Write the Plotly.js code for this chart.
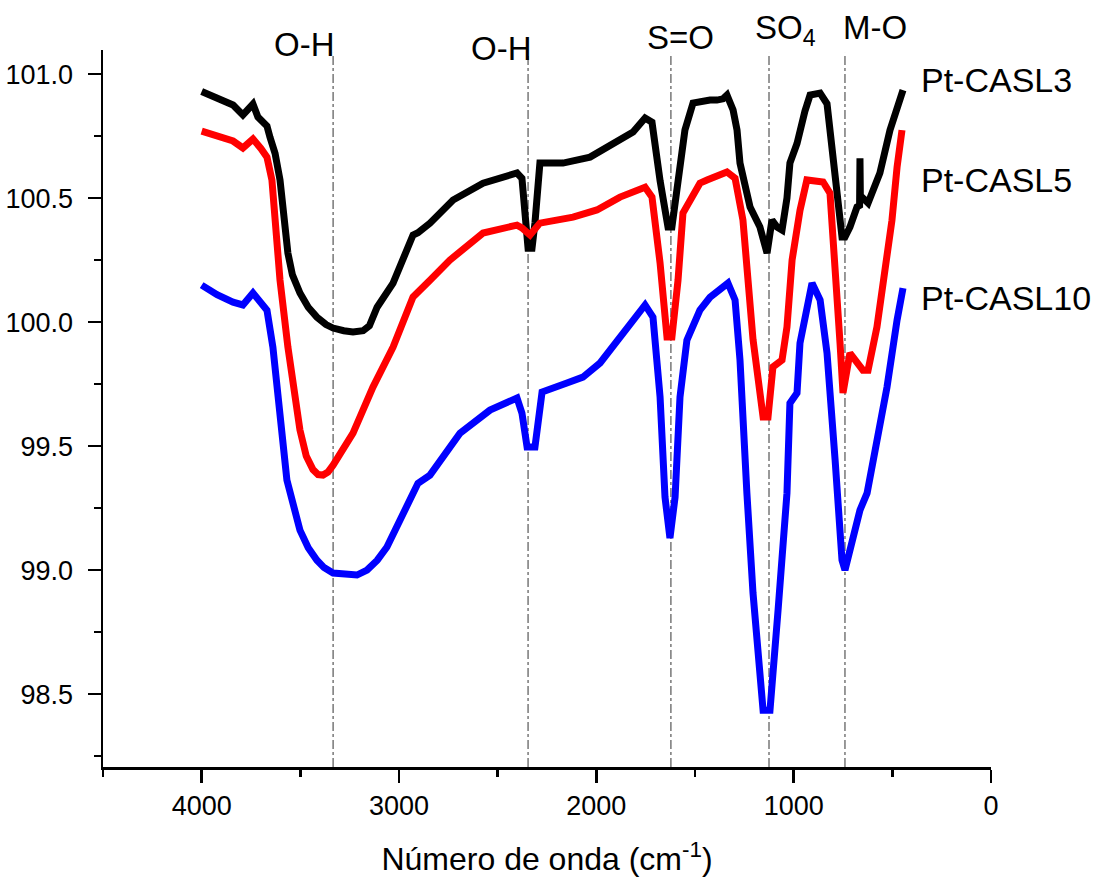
<!DOCTYPE html>
<html>
<head>
<meta charset="utf-8">
<script src="https://cdn.plot.ly/plotly-3.0.1.min.js"></script>
<style>html,body{margin:0;padding:0;background:#fff;}#chart{width:1095px;height:880px;}</style>
</head>
<body>
<div id="chart"></div>
<script>
// Pt-CASL3 (black)
const wn3 = [4000, 3922, 3841, 3791, 3740, 3715, 3669, 3654, 3628, 3603, 3585, 3563, 3540, 3502, 3460, 3416, 3370, 3334, 3280, 3233, 3182, 3150, 3111, 3030, 2929, 2904, 2843, 2726, 2574, 2402, 2377, 2351, 2346, 2326, 2311, 2286, 2169, 2032, 1946, 1814, 1753, 1718, 1677, 1652, 1637, 1617, 1590, 1576, 1551, 1510, 1475, 1424, 1389, 1358, 1338, 1307, 1287, 1272, 1221, 1171, 1135, 1110, 1084, 1059, 1034, 1019, 983, 968, 943, 917, 866, 831, 816, 780, 755, 740, 715, 679, 666, 664, 662, 654, 623, 563, 512, 461, 446];
const t3 = [100.93, 100.903, 100.875, 100.835, 100.879, 100.827, 100.79, 100.746, 100.68, 100.573, 100.45, 100.278, 100.19, 100.117, 100.06, 100.02, 99.99, 99.976, 99.965, 99.96, 99.965, 99.985, 100.06, 100.157, 100.351, 100.36, 100.399, 100.492, 100.56, 100.601, 100.58, 100.38, 100.298, 100.298, 100.4, 100.641, 100.641, 100.665, 100.706, 100.766, 100.823, 100.806, 100.57, 100.45, 100.383, 100.383, 100.55, 100.641, 100.774, 100.883, 100.89, 100.895, 100.895, 100.9, 100.915, 100.855, 100.774, 100.641, 100.464, 100.383, 100.278, 100.411, 100.383, 100.371, 100.5, 100.641, 100.72, 100.774, 100.85, 100.915, 100.923, 100.88, 100.774, 100.504, 100.343, 100.343, 100.383, 100.464, 100.47, 100.66, 100.5, 100.504, 100.48, 100.601, 100.774, 100.915, 100.935];
// Pt-CASL5 (red)
const wn5 = [4000, 3922, 3841, 3791, 3740, 3700, 3669, 3644, 3623, 3603, 3563, 3502, 3470, 3436, 3410, 3385, 3360, 3334, 3233, 3132, 3030, 2929, 2843, 2742, 2574, 2402, 2377, 2336, 2286, 2118, 1997, 1880, 1753, 1718, 1677, 1642, 1617, 1586, 1561, 1475, 1439, 1338, 1297, 1257, 1206, 1155, 1130, 1105, 1059, 1034, 1008, 968, 933, 851, 816, 790, 765, 750, 715, 649, 623, 578, 527, 502, 476, 451];
const t5 = [100.77, 100.75, 100.73, 100.702, 100.738, 100.70, 100.665, 100.573, 100.37, 100.169, 99.899, 99.565, 99.46, 99.405, 99.385, 99.383, 99.395, 99.423, 99.552, 99.738, 99.899, 100.101, 100.169, 100.25, 100.359, 100.391, 100.38, 100.351, 100.399, 100.423, 100.452, 100.504, 100.544, 100.504, 100.238, 99.94, 99.94, 100.169, 100.44, 100.56, 100.573, 100.605, 100.58, 100.411, 99.93, 99.617, 99.617, 99.819, 99.847, 99.98, 100.25, 100.45, 100.573, 100.565, 100.52, 100.25, 99.915, 99.714, 99.875, 99.806, 99.806, 99.98, 100.27, 100.41, 100.625, 100.774];
// Pt-CASL10 (blue)
const wn10 = [4000, 3922, 3841, 3791, 3740, 3669, 3639, 3603, 3568, 3502, 3460, 3416, 3380, 3334, 3270, 3213, 3162, 3110, 3061, 2929, 2904, 2843, 2691, 2539, 2402, 2377, 2351, 2311, 2275, 2149, 2068, 1981, 1880, 1753, 1713, 1677, 1652, 1627, 1601, 1576, 1541, 1475, 1424, 1373, 1333, 1297, 1272, 1237, 1206, 1155, 1120, 1079, 1034, 1019, 983, 968, 907, 866, 831, 790, 755, 740, 704, 664, 628, 578, 527, 476, 446];
const t10 = [100.149, 100.11, 100.08, 100.069, 100.117, 100.048, 99.899, 99.633, 99.363, 99.161, 99.09, 99.04, 99.01, 98.988, 98.98, 98.98, 99.0, 99.04, 99.093, 99.323, 99.35, 99.383, 99.552, 99.645, 99.694, 99.633, 99.496, 99.496, 99.718, 99.754, 99.778, 99.835, 99.94, 100.069, 100.02, 99.698, 99.294, 99.129, 99.294, 99.698, 99.927, 100.048, 100.10, 100.129, 100.157, 100.089, 99.847, 99.31, 98.907, 98.435, 98.435, 98.839, 99.31, 99.673, 99.714, 99.915, 100.157, 100.089, 99.875, 99.444, 99.04, 99.0, 99.109, 99.242, 99.31, 99.512, 99.738, 100.008, 100.137];

const seriesNames = ['Pt-CASL3', 'Pt-CASL5', 'Pt-CASL10'];
const bandPositions = [3334, 2346, 1622, 1125, 740];
const bandLabels = ['O-H', 'O-H', 'S=O', 'SO<sub>4</sub>', 'M-O'];
const xTitle = 'Número de onda (cm<sup>-1</sup>)';

const FONT = 'Liberation Sans, Arial, sans-serif';
const colors = ['#000000', '#ff0000', '#0000ff'];
const xs = [wn3, wn5, wn10], ys = [t3, t5, t10];

const traces = xs.map((x, i) => ({
  x: x, y: ys[i], type: 'scatter', mode: 'lines', name: seriesNames[i],
  line: {color: colors[i], width: 7}, showlegend: false
}));

const yBottom = 98.206, yTop = 101.097;
const shapes = bandPositions.map(p => ({
  type: 'line', xref: 'x', yref: 'y', x0: p, x1: p, y0: yBottom, y1: 101.085,
  line: {color: '#333', width: 1, dash: 'dashdot'}, layer: 'below'
}));

const bandLabelPos = [[0.2264, 1.007], [0.4482, 1.0014], [0.6498, 1.018], [0.769, 1.028], [0.869, 1.032]];
const annotations = bandLabels.map((t, i) => ({
  text: t, xref: 'paper', yref: 'paper', x: bandLabelPos[i][0], y: bandLabelPos[i][1],
  xanchor: 'center', yanchor: 'middle', showarrow: false, borderpad: 0,
  font: {family: FONT, size: 33, color: '#000'}
}));
const seriesLabelPos = [[0.9195, 0.958], [0.9195, 0.8187], [0.9205, 0.654]];
seriesNames.forEach((n, i) => annotations.push({
  text: n, xref: 'paper', yref: 'paper', x: seriesLabelPos[i][0], y: seriesLabelPos[i][1],
  xanchor: 'left', yanchor: 'middle', showarrow: false, borderpad: 0,
  font: {family: FONT, size: 34, color: '#000'}
}));

const layout = {
  width: 1095, height: 880,
  margin: {l: 103, r: 104, t: 50, b: 113},
  paper_bgcolor: '#fff', plot_bgcolor: '#fff',
  font: {family: FONT, color: '#000'},
  xaxis: {
    range: [4500, 0], showgrid: false, zeroline: false,
    showline: true, linecolor: '#000', linewidth: 2.5,
    ticks: 'outside', ticklen: 13, tickwidth: 2.5, tickcolor: '#000',
    tick0: 0, dtick: 1000,
    minor: {ticks: 'outside', ticklen: 7, tickwidth: 2.5, tickcolor: '#000', dtick: 500, showgrid: false},
    tickfont: {family: FONT, size: 27, color: '#000'},
    title: {text: xTitle, font: {family: FONT, size: 32, color: '#000'}, standoff: 28},
    automargin: false
  },
  yaxis: {
    range: [yBottom, yTop], showgrid: false, zeroline: false,
    showline: true, linecolor: '#000', linewidth: 2.5,
    ticks: 'outside', ticklen: 13, tickwidth: 2.5, tickcolor: '#000',
    tick0: 98.5, dtick: 0.5, tickformat: '.1f', ticklabelstandoff: 9,
    minor: {ticks: 'outside', ticklen: 7, tickwidth: 2.5, tickcolor: '#000', dtick: 0.25, showgrid: false},
    tickfont: {family: FONT, size: 27, color: '#000'},
    automargin: false
  },
  shapes: shapes,
  annotations: annotations,
  showlegend: false
};

Plotly.newPlot('chart', traces, layout, {displayModeBar: false, staticPlot: true});
</script>
</body>
</html>
